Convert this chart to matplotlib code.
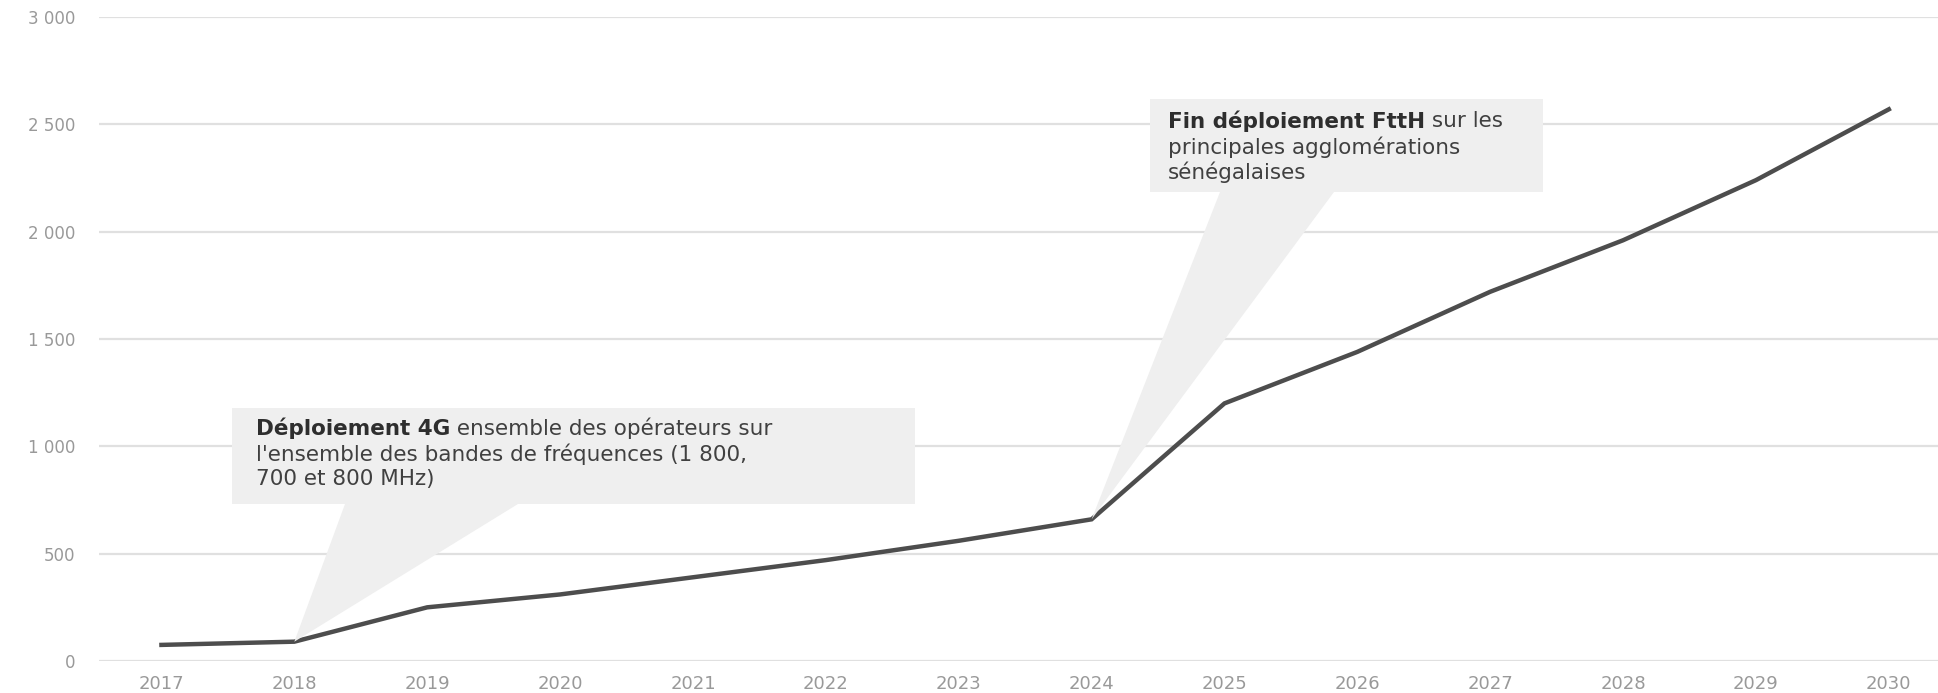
import matplotlib
matplotlib.use("Agg")
import matplotlib.pyplot as plt
from matplotlib.patches import Rectangle, Polygon

years = [2017, 2018, 2019, 2020, 2021, 2022, 2023, 2024, 2025, 2026, 2027, 2028, 2029, 2030]
values = [75, 90, 250, 310, 390, 470, 560, 660, 1200, 1440, 1720, 1960, 2240, 2570]
yticks = [0, 500, 1000, 1500, 2000, 2500, 3000]
ytick_labels = ["0", "500", "1 000", "1 500", "2 000", "2 500", "3 000"]

ann1_bold = "Déploiement 4G"
ann1_lines = [" ensemble des opérateurs sur",
              "l'ensemble des bandes de fréquences (1 800,",
              "700 et 800 MHz)"]
ann1_year = 2018
ann2_bold = "Fin déploiement FttH"
ann2_lines = [" sur les", "principales agglomérations", "sénégalaises"]
ann2_year = 2024

W, H = 1938, 693
fig = plt.figure(figsize=(W / 100, H / 100), dpi=100)
plt.rcParams['font.family'] = ['DejaVu Sans']

ax = fig.add_axes([99 / W, 1 - 661 / H, 1 - 99 / W, (661 - 17) / H])
ax.set_xlim(2016.53, 2030.37)
ax.set_ylim(0, 3000)
for s in ax.spines.values():
    s.set_visible(False)
ax.set_yticks(yticks)
ax.set_yticklabels(ytick_labels)
ax.set_xticks(years)
ax.set_xticklabels([str(y) for y in years])
ax.tick_params(length=0, colors="#999999")
ax.tick_params(axis='y', pad=17, labelsize=12)
ax.tick_params(axis='x', pad=10, labelsize=13)
ax.grid(axis='y', color="#e0e0e0", lw=1.6)
ax.set_axisbelow(True)

ax.plot(years, values, color="#4d4d4d", lw=3.2, zorder=3, solid_joinstyle='miter')

box_col = "#efefef"
txt_col = "#404040"
fs = 15.5


def px2fig(x, y):
    return x / W, 1 - y / H


def callout(x0, y0, x1, y1, bx0, bx1, year, value, lines_y, tx, bold, rest):
    fx0, fy1 = px2fig(x0, y0)
    fx1, fy0 = px2fig(x1, y1)
    fig.patches.append(Rectangle((fx0, fy0), fx1 - fx0, fy1 - fy0,
                                 transform=fig.transFigure, facecolor=box_col,
                                 edgecolor='none', zorder=1))
    disp = ax.transData.transform((year, value))
    tipx, tipy = fig.transFigure.inverted().transform(disp)
    b0 = px2fig(bx0, y1)
    b1 = px2fig(bx1, y1)
    fig.patches.append(Polygon([b0, b1, (tipx, tipy)], closed=True,
                               transform=fig.transFigure, facecolor=box_col,
                               edgecolor='none', zorder=1))
    renderer = fig.canvas.get_renderer()
    fx, fy = px2fig(tx, lines_y[0])
    t = fig.text(fx, fy, bold, fontsize=fs, fontweight='bold', color="#2e2e2e",
                 va='center', ha='left', zorder=5)
    bb = t.get_window_extent(renderer)
    fig.text(bb.x1 / W, fy, rest[0], fontsize=fs, color=txt_col,
             va='center', ha='left', zorder=5)
    for ly, line in zip(lines_y[1:], rest[1:]):
        fx, fy = px2fig(tx, ly)
        fig.text(fx, fy, line, fontsize=fs, color=txt_col,
                 va='center', ha='left', zorder=5)


callout(232, 408, 915, 504, 345, 518, ann1_year, values[years.index(ann1_year)],
        [428, 454, 479], 256, ann1_bold, ann1_lines)
callout(1150, 99, 1543, 192, 1220, 1334, ann2_year, values[years.index(ann2_year)],
        [121, 147, 172], 1168, ann2_bold, ann2_lines)

fig.savefig("out.png", dpi=100, facecolor="white")
